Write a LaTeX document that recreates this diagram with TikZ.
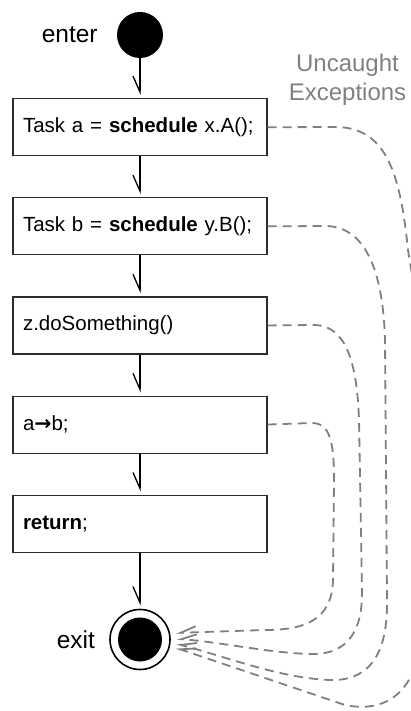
\documentclass[tikz,border=0pt]{standalone}
\usepackage{fontspec}
\setmainfont{Liberation Sans}
\newfontfamily\arrowfont{DejaVu Sans}
\usetikzlibrary{positioning,arrows.meta}
\definecolor{excgray}{RGB}{128,128,128}
\definecolor{boxline}{RGB}{45,45,45}

\begin{document}
\begin{tikzpicture}[x=1pt, y=-1pt,
  stmt/.style={draw=boxline, line width=1.1pt, minimum height=57pt, text width=234pt,
    inner xsep=10pt, align=left, font=\fontsize{20.5}{24}\selectfont},
  startdot/.style={circle, fill=black, minimum size=46pt, inner sep=0pt},
  endring/.style={circle, draw=black, line width=1.6pt, minimum size=60pt, inner sep=0pt},
  enddot/.style={circle, fill=black, minimum size=44pt, inner sep=0pt},
  lbl/.style={inner sep=0pt, font=\fontsize{24.5}{28}\selectfont},
  exclbl/.style={inner sep=0pt, text=excgray, align=center, font=\fontsize{24}{29}\selectfont},
  flow/.style={-{Straight Barb[harpoon,swap,length=16pt,width=14pt]}, line width=1.3pt, shorten >=3pt},
  uncaught/.style={draw=excgray, dash pattern=on 9pt off 6pt, line width=1.8pt,
    -{Straight Barb[harpoon,swap,length=15pt,width=12pt]}, shorten >=6pt}
]
\useasboundingbox (0,0) rectangle (410,711);

\node[startdot] (enter) at (140,35) {};
\node[lbl, left=19pt of enter] (enterlbl) {enter};
\node[exclbl, anchor=north] (exclabel) at (347.5,54) {Uncaught\\Exceptions};

\node[stmt, below=40pt of enter] (L1) {Task a = \textbf{schedule} x.A();};
\node[stmt, below=41pt of L1] (L2) {Task b = \textbf{schedule} y.B();};
\node[stmt, below=41pt of L2] (L3) {z.doSomething()};
\node[stmt, below=41pt of L3] (L4) {a{\arrowfont\bfseries →}b;};
\node[stmt, below=41pt of L4] (L5) {\textbf{return};};
\node[endring, below=56pt of L5] (exit) {};
\node[enddot] (exitdot) at (exit) {};
\node[lbl, left=14pt of exit] (exitlbl) {exit};

\draw[flow] (enter) -- (L1);
\draw[flow] (L1) -- (L2);
\draw[flow] (L2) -- (L3);
\draw[flow] (L3) -- (L4);
\draw[flow] (L4) -- (L5);
\draw[flow] (L5) -- (exit);

% exception paths
\draw[uncaught] (L1.east) -- (335,127) .. controls (385,127) and (400,170) .. (408,250)
  .. controls (413,285) and (425,330) .. (425,400)
  -- (425,600) .. controls (425,690) and (390,714) .. (345,705) -- (exit.-12);
\draw[uncaught] (L2.east) -- (325,226) .. controls (365,226) and (383,270) .. (385,340)
  -- (387,600) .. controls (388,660) and (365,681) .. (330,680) .. controls (280,678) and (230,658) .. (exit.-5);
\draw[uncaught] (L3.east) -- (315,325) .. controls (345,326) and (357,360) .. (359,420)
  -- (362,590) .. controls (363,640) and (340,655) .. (310,654) .. controls (270,653) and (220,642) .. (exit.2);
\draw[uncaught] (L4.east) -- (312,423) .. controls (330,423) and (334,442) .. (334,480)
  -- (333,580) .. controls (332,620) and (305,630) .. (265,630) -- (exit.12);
\end{tikzpicture}
\end{document}
